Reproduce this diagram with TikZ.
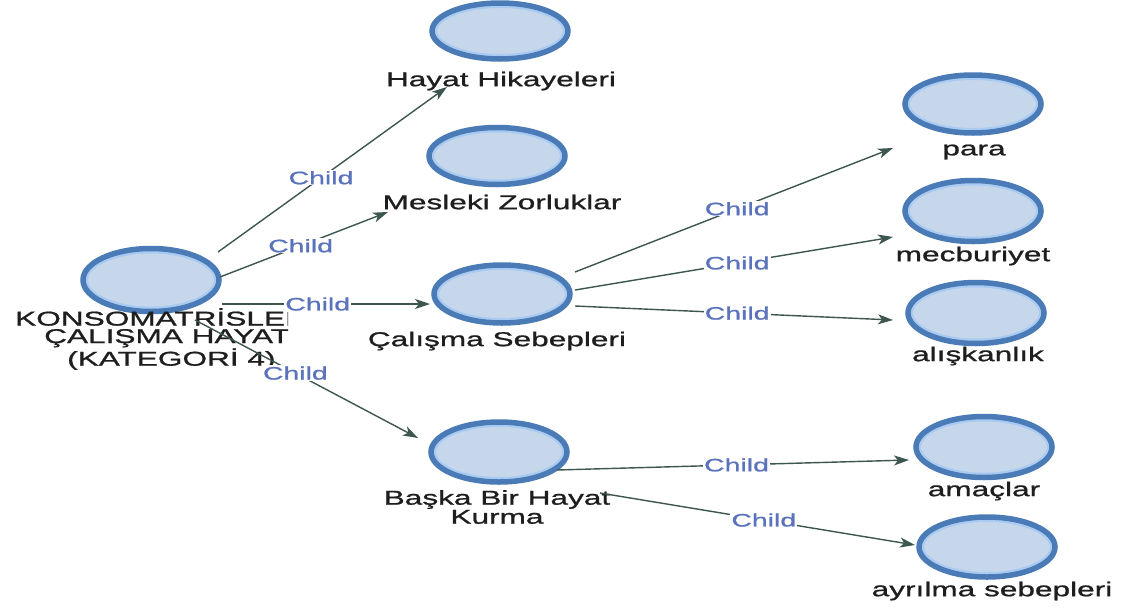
\documentclass[tikz,border=0pt]{standalone}
\usepackage{fontspec}
\setmainfont[FakeStretch=1.58,FakeBold=1]{Liberation Sans}
\usetikzlibrary{arrows.meta,shapes.geometric,calc}
\definecolor{nodeborder}{HTML}{4A7BB7}
\definecolor{nodering}{HTML}{A9CBF2}
\definecolor{nodefill}{HTML}{C7D7EB}
\definecolor{edgecol}{HTML}{3E5650}
\definecolor{childcol}{HTML}{5B72BC}
\definecolor{txtcol}{HTML}{1E1E1E}
\begin{document}
\begin{tikzpicture}[x=1pt,y=-1pt,
  cnode/.style={ellipse, draw=nodeborder, line width=5.5pt, fill=nodefill,
    inner sep=0pt, outer sep=0pt, minimum width=136pt, minimum height=#1,
    path picture={\draw[nodering, line width=10pt]
      let \p1=(path picture bounding box.north east),
          \p2=(path picture bounding box.center) in
      (\p2) ellipse [x radius={\x1-\x2}, y radius={\y1-\y2}];}},
  cnode/.default=58pt,
  lbl/.style={text=txtcol, font=\fontsize{20}{17.5}\selectfont, inner sep=0pt, align=center},
  rel/.style={draw=edgecol, line width=1.4pt, -{Stealth[length=15pt,width=10pt,inset=4pt]}},
  childlbl/.style={text=childcol, font=\fontsize{18}{18}\selectfont, fill=white, inner sep=1pt},
]
\useasboundingbox (0,0) rectangle (1124,608);
\fill[white] (0,0) rectangle (1124,608);

% nodes
\node[cnode=63pt] (root) at (151,280) {};
\node[cnode=56pt] (hayat) at (500,31) {};
\node[cnode=57pt] (mesleki) at (497,156) {};
\node[cnode=58pt] (calisma) at (502,294) {};
\node[cnode=60pt] (baska) at (499,452) {};
\node[cnode=58pt] (para) at (973,104) {};
\node[cnode=61pt] (mecb) at (973,211) {};
\node[cnode=61pt] (alisk) at (976,313) {};
\node[cnode=61pt] (amac) at (984,447) {};
\node[cnode=60pt] (ayril) at (987,547) {};

% labels
\begin{scope}
  \clip (0,300) rectangle (288,370);
  \node[lbl, anchor=west, align=left] (root-l) at (11,339)
    {\hspace*{4pt}KONSOMATRİSLER\\\hspace*{33pt}ÇALIŞMA HAYAT\\\hspace*{56pt}(KATEGORİ 4)};
\end{scope}
\node[lbl] (hayat-l) at (501,81) {Hayat Hikayeleri};
\node[lbl] (mesleki-l) at (502,202) {Mesleki Zorluklar};
\node[lbl] (calisma-l) at (497,341) {Çalışma Sebepleri};
\node[lbl] (baska-l) at (497,507) {Başka Bir Hayat\\Kurma};
\node[lbl] (para-l) at (974,152) {para};
\node[lbl] (mecb-l) at (973,256) {mecburiyet};
\node[lbl] (alisk-l) at (978,356) {alışkanlık};
\node[lbl] (amac-l) at (984,491) {amaçlar};
\node[lbl] (ayril-l) at (992,591) {ayrılma sebepleri};

% connectors
\draw[rel] ([shift={(67,-28)}]root.center) -- node[childlbl,pos=0.45]{Child} ([shift={(-53,56)}]hayat.center);
\draw[rel] ([shift={(69,-3)}]root.center) -- node[childlbl,pos=0.48]{Child} ([shift={(-109,56)}]mesleki.center);
\draw[rel] ([shift={(71,24)}]root.center) -- node[childlbl,pos=0.46]{Child} ([shift={(-72,10)}]calisma.center);
\draw[rel] ([shift={(44,40)}]root.center) -- node[childlbl,pos=0.45]{Child} ([shift={(-81,-14)}]baska.center);
\draw[rel] ([shift={(73,-22)}]calisma.center) -- node[childlbl,pos=0.51]{Child} ([shift={(-80,44)}]para.center);
\draw[rel] ([shift={(73,-4)}]calisma.center) -- node[childlbl,pos=0.51]{Child} ([shift={(-80,26)}]mecb.center);
\draw[rel] ([shift={(73,12)}]calisma.center) -- node[childlbl,pos=0.51]{Child} ([shift={(-83,7)}]alisk.center);
\draw[rel] ([shift={(58,18)}]baska.center) -- node[childlbl,pos=0.51]{Child} ([shift={(-75,13)}]amac.center);
\draw[rel] ([shift={(101,41)}]baska.center) -- node[childlbl,pos=0.52]{Child} ([shift={(-72,-2)}]ayril.center);
\end{tikzpicture}
\end{document}
